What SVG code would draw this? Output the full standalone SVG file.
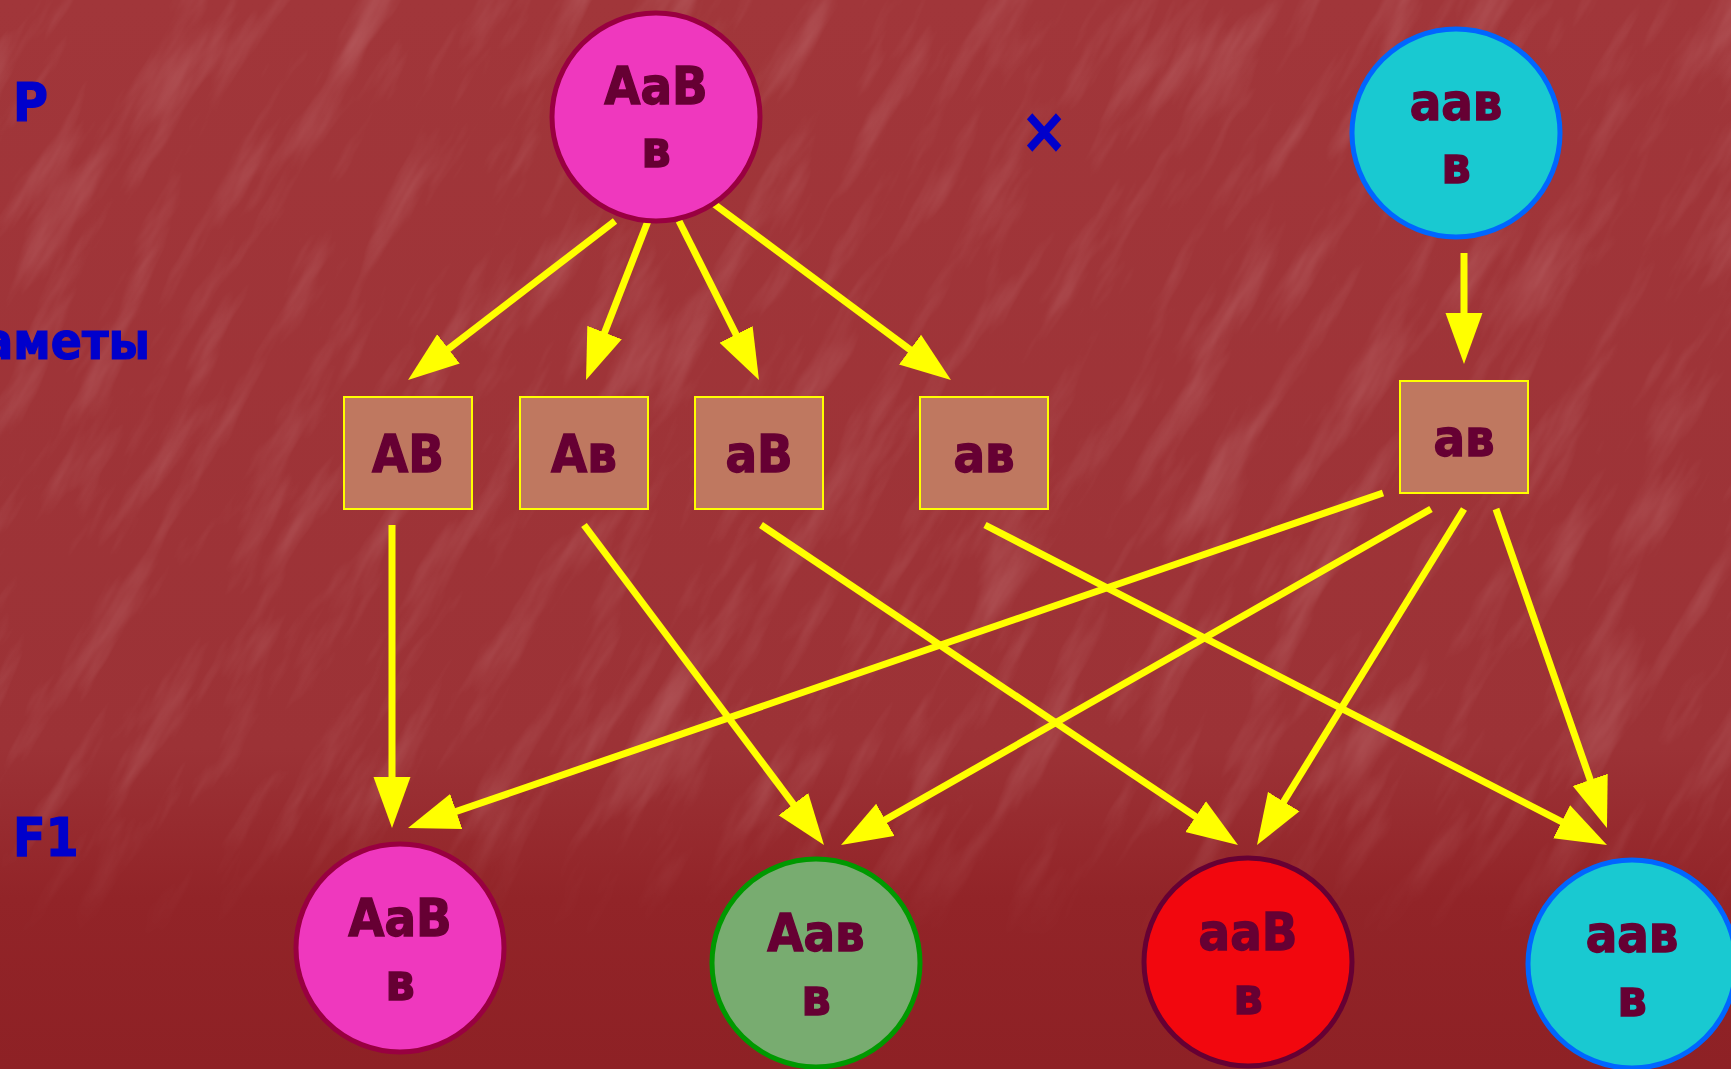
<svg xmlns="http://www.w3.org/2000/svg" width="1731" height="1069" viewBox="0 0 1731 1069">
  <defs>
    <linearGradient id="bg" x1="0" y1="0" x2="0" y2="1">
      <stop offset="0" stop-color="#A1363A"/>
      <stop offset="0.7" stop-color="#9C3236"/>
      <stop offset="0.84" stop-color="#922428"/>
      <stop offset="1" stop-color="#8E2125"/>
    </linearGradient>
    <linearGradient id="fade" x1="0" y1="0" x2="0" y2="1">
      <stop offset="0" stop-color="#fff"/>
      <stop offset="0.75" stop-color="#fff"/>
      <stop offset="0.88" stop-color="#000"/>
    </linearGradient>
    <mask id="texMask">
      <rect width="1731" height="1069" fill="url(#fade)"/>
    </mask>
    <filter id="streaks" x="0" y="0" width="100%" height="100%">
      <feTurbulence type="fractalNoise" baseFrequency="0.006 0.03" numOctaves="4" seed="7"/>
      <feColorMatrix type="matrix" values="0 0 0 0 1  0 0 0 0 0.72  0 0 0 0 0.72  2.0 0 0 0 -1.0"/>
    </filter>
    <marker id="head" markerUnits="userSpaceOnUse" markerWidth="52" markerHeight="38" viewBox="0 -19 52 38" refX="31" refY="0" orient="auto">
      <path d="M0,-18.5 L51,0 L0,18.5 Z" fill="#FFFF00"/>
    </marker>
    <style>
      .lbl { font-family: "DejaVu Sans Condensed", "DejaVu Sans", sans-serif; font-stretch: condensed; font-weight: bold; fill: #0000CC; stroke: #0000CC; stroke-width: 1.2; }
      .gen { font-family: "DejaVu Sans Condensed", "DejaVu Sans", sans-serif; font-stretch: condensed; font-weight: bold; font-size: 52px; fill: #660033; stroke: #660033; stroke-width: 1.3; text-anchor: middle; }
      .gamete { fill: #BF7860; stroke: #FFFF00; stroke-width: 2; }
      .edge { stroke: #FFFF00; stroke-width: 7; fill: none; marker-end: url(#head); }
      .pink { fill: #EF38BE; stroke: #990040; stroke-width: 5; }
      .cyan { fill: #19C9D1; stroke: #0066FF; stroke-width: 5; }
      .green { fill: #78AC70; stroke: #009900; stroke-width: 5; }
      .red { fill: #F2070E; stroke: #660033; stroke-width: 5; }
    </style>
  </defs>

  <!-- background -->
  <rect width="1731" height="1069" fill="url(#bg)"/>
  <g mask="url(#texMask)" opacity="0.2">
    <g transform="rotate(-60 865 534)">
      <rect x="-600" y="-600" width="2931" height="2269" filter="url(#streaks)"/>
    </g>
  </g>

  <!-- row labels -->
  <text class="lbl" x="13" y="121" font-size="53">P</text>
  <text class="lbl" x="150" y="359" font-size="51" text-anchor="end">Гаметы</text>
  <text class="lbl" x="13" y="856" font-size="53">F1</text>
  <text class="lbl" x="1044" y="152" font-size="62" text-anchor="middle">×</text>

  <!-- connectors -->
  <g id="connectors">
    <line class="edge" x1="615" y1="221" x2="423.9" y2="367.8"/>
    <line class="edge" x1="648" y1="221" x2="593.3" y2="361.4"/>
    <line class="edge" x1="679" y1="221" x2="750.0" y2="362.1"/>
    <line class="edge" x1="714" y1="204" x2="934.9" y2="368.1"/>
    <line class="edge" x1="1464" y1="253" x2="1464" y2="344"/>
    <line class="edge" x1="392" y1="525" x2="392" y2="808"/>
    <line class="edge" x1="584" y1="525" x2="812" y2="829"/>
    <line class="edge" x1="761" y1="525" x2="1221.4" y2="833.9"/>
    <line class="edge" x1="985" y1="525" x2="1589.2" y2="835.9"/>
    <line class="edge" x1="1383" y1="493" x2="426.9" y2="821.5"/>
    <line class="edge" x1="1431" y1="509" x2="858.4" y2="835.1"/>
    <line class="edge" x1="1464" y1="509" x2="1267.5" y2="828.0"/>
    <line class="edge" x1="1496" y1="509" x2="1600.4" y2="809.1"/>
  </g>

  <!-- parents -->
  <g id="parent-AaBb">
    <circle class="pink" cx="656" cy="117" r="104"/>
    <text class="gen" x="656" y="104">AaB</text>
    <text class="gen" x="656" y="167">в</text>
  </g>
  <g id="parent-aabb">
    <circle class="cyan" cx="1456" cy="133" r="104"/>
    <text class="gen" x="1456" y="120">aaв</text>
    <text class="gen" x="1456" y="183">в</text>
  </g>

  <!-- gametes -->
  <g id="gamete-AB">
    <rect class="gamete" x="344" y="397" width="128" height="112"/>
    <text class="gen" x="408" y="472">AB</text>
  </g>
  <g id="gamete-Ab">
    <rect class="gamete" x="520" y="397" width="128" height="112"/>
    <text class="gen" x="584" y="472">Ав</text>
  </g>
  <g id="gamete-aB">
    <rect class="gamete" x="695" y="397" width="128" height="112"/>
    <text class="gen" x="759" y="472">aB</text>
  </g>
  <g id="gamete-ab">
    <rect class="gamete" x="920" y="397" width="128" height="112"/>
    <text class="gen" x="984" y="472">ав</text>
  </g>
  <g id="gamete-ab-2">
    <rect class="gamete" x="1400" y="381" width="128" height="112"/>
    <text class="gen" x="1464" y="456">ав</text>
  </g>

  <!-- offspring -->
  <g id="f1-AaBb">
    <circle class="pink" cx="400" cy="948" r="104"/>
    <text class="gen" x="400" y="936">AaB</text>
    <text class="gen" x="400" y="1000">в</text>
  </g>
  <g id="f1-Aabb">
    <circle class="green" cx="816" cy="963" r="104"/>
    <text class="gen" x="816" y="951">Aaв</text>
    <text class="gen" x="816" y="1015">в</text>
  </g>
  <g id="f1-aaBb">
    <circle class="red" cx="1248" cy="962" r="104"/>
    <text class="gen" x="1248" y="950">aaB</text>
    <text class="gen" x="1248" y="1014">в</text>
  </g>
  <g id="f1-aabb">
    <circle class="cyan" cx="1632" cy="964" r="104"/>
    <text class="gen" x="1632" y="952">aaв</text>
    <text class="gen" x="1632" y="1016">в</text>
  </g>
</svg>
